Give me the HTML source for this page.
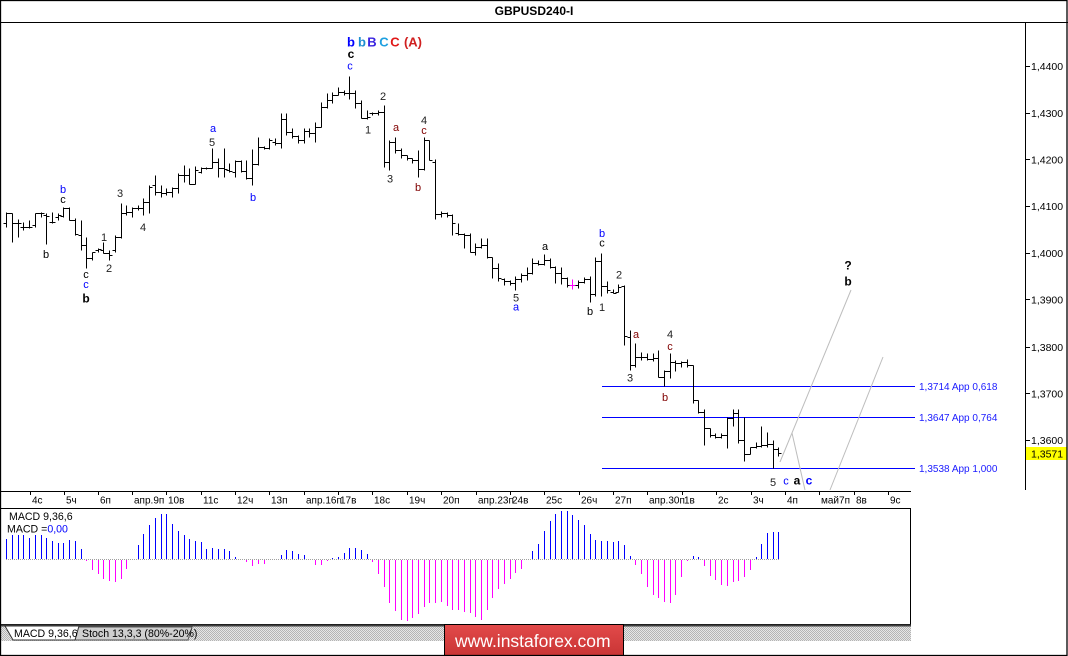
<!DOCTYPE html>
<html><head><meta charset="utf-8"><style>
html,body{margin:0;padding:0;background:#fff;}
svg{display:block;}
text{font-family:"Liberation Sans",Arial,sans-serif;}
</style></head><body>
<svg width="1068" height="656" viewBox="0 0 1068 656" xmlns="http://www.w3.org/2000/svg">
<defs>
<pattern id="hatch" width="2" height="2" patternUnits="userSpaceOnUse">
<rect width="2" height="2" fill="#e6e6e6"/><rect width="1" height="1" fill="#b4b4b4"/><rect x="1" y="1" width="1" height="1" fill="#b4b4b4"/>
</pattern>
<linearGradient id="lg" x1="0" y1="0" x2="0" y2="1"><stop offset="0" stop-color="#e24a4a"/><stop offset="1" stop-color="#c83434"/></linearGradient>
</defs>
<rect width="1068" height="656" fill="#fff"/>
<!-- title -->
<text x="534" y="15" font-size="12" font-weight="bold" text-anchor="middle" fill="#000">GBPUSD240-I</text>
<g shape-rendering="crispEdges" stroke="#000" stroke-width="1" fill="none">
<line x1="0" y1="22.5" x2="1068" y2="22.5"/>
<line x1="1025.5" y1="22" x2="1025.5" y2="490"/>
<line x1="0" y1="491.5" x2="911" y2="491.5"/>
</g>
<!-- price axis ticks -->
<g shape-rendering="crispEdges" stroke="#000">
<path d="M1025 66.5H1030M1025 113.5H1030M1025 159.5H1030M1025 206.5H1030M1025 253.5H1030M1025 299.5H1030M1025 347.5H1030M1025 393.5H1030M1025 440.5H1030"/>
</g>
<g font-size="10.5" fill="#000">
<text x="1031" y="70">1,4400</text>
<text x="1031" y="117">1,4300</text>
<text x="1031" y="163.5">1,4200</text>
<text x="1031" y="210">1,4100</text>
<text x="1031" y="257">1,4000</text>
<text x="1031" y="303.5">1,3900</text>
<text x="1031" y="351">1,3800</text>
<text x="1031" y="397.5">1,3700</text>
<text x="1031" y="444">1,3600</text>
</g>
<rect x="1026" y="447" width="41" height="13" fill="#ffff00"/>
<text x="1031" y="457.5" font-size="10.5" fill="#000">1,3571</text>
<!-- fib lines -->
<g shape-rendering="crispEdges" stroke="#0000ff">
<line x1="602" y1="386.5" x2="915" y2="386.5"/>
<line x1="602" y1="417.5" x2="915" y2="417.5"/>
<line x1="602" y1="468.5" x2="915" y2="468.5"/>
</g>
<g font-size="10" fill="#1a1aff">
<text x="919" y="390">1,3714 App 0,618</text>
<text x="919" y="421">1,3647 App 0,764</text>
<text x="919" y="472">1,3538 App 1,000</text>
</g>
<!-- grey projection lines -->
<g stroke="#bdbdbd" stroke-width="1" fill="none">
<line x1="780" y1="462" x2="851" y2="290"/>
<line x1="792" y1="433" x2="805" y2="490"/>
<line x1="830" y1="490" x2="883" y2="357"/>
</g>
<!-- price bars -->
<g transform="translate(0.5,0.5)" shape-rendering="crispEdges" stroke="#000" stroke-width="1" fill="none">
<path d="M6 212V227M3 223H6M6 213H9M12 213V242M9 213H12M12 223H15M18 219V237M15 223H18M18 223H21M23 222V230M20 227H23M23 227H26M29 220V228M26 227H29M29 227H32M35 213V227M32 225H35M35 213H38M41 212V217M38 213H41M41 213H44M46 213V244M43 215H46M46 216H49M52 212V223M49 222H52M52 222H55M58 213V220M55 217H58M58 215H61M63 207V217M60 216H63M63 208H66M69 207V220M66 208H69M69 220H72M75 218V235M72 220H75M75 234H78M81 220V250M78 235H81M81 245H84M86 237V268M83 245H86M86 258H89M92 252V260M89 258H92M92 252H95M98 248V252M95 250H98M98 249H101M103 242V253M100 250H103M103 253H106M109 250V260M106 253H109M109 255H112M115 235V252M112 250H115M115 237H118M121 203V238M118 237H121M121 213H124M126 205V215M123 213H126M126 212H129M132 207V217M129 212H132M132 208H135M138 205V210M135 208H138M138 208H141M143 198V215M140 208H143M143 202H146M149 185V213M146 202H149M149 187H152M155 175V195M152 185H155M155 192H158M161 185V197M158 192H161M161 193H164M166 188V195M163 193H166M166 192H169M172 187V197M169 192H172M172 188H175M178 173V193M175 188H178M178 175H181M184 165V182M181 175H184M184 175H187M189 168V184M186 175H189M189 184H192M195 166V184M192 184H195M195 170H198M201 167V173M198 172H201M201 168H204M206 167V169M203 168H206M206 168H209M212 148V168M209 168H212M212 162H215M218 158V177M215 162H218M218 168H221M224 148V177M221 168H224M224 169H227M229 163V172M226 170H229M229 171H232M235 160V177M232 172H235M235 161H238M241 160V172M238 161H241M241 171H244M246 160V179M243 171H246M246 178H249M252 149V185M249 178H252M252 164H255M258 137V165M255 164H258M258 147H261M264 146V149M261 147H264M264 148H267M269 138V149M266 148H269M269 140H272M275 138V145M272 142H275M275 143H278M281 113V148M278 143H281M281 119H284M286 113V135M283 119H286M286 132H289M292 128V138M289 132H292M292 136H295M298 135V143M295 136H298M298 140H301M304 128V143M301 140H304M304 131H307M309 128V137M306 131H309M309 133H312M315 122V142M312 133H315M315 127H318M321 102V127M318 127H321M321 107H324M327 93V108M324 107H327M327 100H330M332 92V103M329 100H332M332 95H335M338 87V95M335 95H338M338 92H341M344 90V95M341 92H344M344 93H347M349 76V99M346 93H349M349 93H352M355 90V108M352 93H355M355 103H358M361 100V118M358 103H361M361 118H364M367 110V119M364 118H367M367 117H370M372 112V115M369 113H372M372 113H375M378 110V115M375 113H378M378 112H381M384 105V167M381 112H384M384 162H387M389 140V170M386 162H389M389 142H392M395 137V153M392 142H395M395 150H398M401 148V158M398 150H401M401 155H404M407 155V160M404 155H407M407 158H410M412 158V163M409 158H412M412 160H415M418 150V177M415 160H418M418 169H421M424 137V170M421 169H424M424 140H427M429 140V160M426 140H429M429 160H432M435 159V219M432 162H435M435 214H438M441 211V217M438 214H441M441 213H444M447 212V217M444 213H447M447 215H450M452 214V235M449 215H452M452 223H455M458 223V235M455 233H458M458 234H461M464 233V248M461 234H464M464 235H467M470 233V252M467 235H470M470 252H473M475 243V255M472 252H475M475 247H478M481 238V248M478 247H481M481 245H484M487 238V258M484 245H487M487 257H490M492 257V278M489 257H492M492 268H495M498 263V281M495 268H498M498 278H501M504 278V285M501 279H504M504 281H507M510 280V285M507 281H510M510 283H513M515 276V290M512 283H515M515 279H518M521 273V282M518 279H521M521 275H524M527 267V280M524 275H527M527 273H530M532 258V274M529 273H532M532 263H535M538 260V265M535 263H538M538 264H541M544 254V265M541 264H544M544 260H547M550 258V268M547 260H550M550 267H553M555 266V283M552 267H555M555 273H558M561 267V284M558 273H561M561 278H564M567 277V287M564 278H567M567 285H570M578 280V288M575 285H578M578 282H581M584 277V283M581 282H584M584 279H587M590 276V302M587 279H590M590 294H593M595 257V296M592 294H595M595 261H598M601 253V296M598 261H601M601 286H604M607 281V293M604 286H607M607 290H610M613 289V293M610 292H613M613 293H616M618 284V292M615 292H618M618 287H621M624 285V345M621 286H624M624 336H627M630 330V370M627 337H630M630 365H633M635 343V367M632 365H635M635 357H638M641 352V360M638 357H641M641 357H644M647 353V360M644 357H647M647 359H650M653 353V361M650 359H653M653 358H656M658 350V377M655 358H658M658 377H661M664 370V386M661 377H664M664 371H667M670 353V378M667 371H670M670 362H673M675 360V371M672 362H675M675 363H678M681 361V367M678 363H681M681 362H684M687 359V367M684 362H687M687 365H690M693 365V403M690 365H693M693 400H696M698 400V413M695 400H698M698 412H701M704 409V445M701 412H704M704 428H707M710 428V437M707 428H710M710 435H713M715 433V438M712 435H715M715 437H718M721 433V438M718 437H721M721 435H724M727 417V448M724 435H727M727 418H730M733 409V426M730 418H733M733 413H736M738 409V443M735 413H738M738 440H741M744 417V461M741 440H744M744 454H747M750 447V454M747 454H750M750 447H753M756 442V448M753 447H756M756 446H759M761 426V447M758 446H761M761 445H764M767 432V447M764 445H767M767 444H770M773 440V468M770 444H773M773 449H776M778 447V456M775 449H778M778 453H781"/>
<path stroke="#ff00ff" d="M572 279V289M569 285H572M572 285H575"/>
</g>
<!-- wave labels -->
<g font-size="11" text-anchor="middle">
<text x="63" y="193" fill="#0000ff">b</text>
<text x="63" y="203" fill="#000">c</text>
<text x="46" y="258" fill="#000">b</text>
<text x="86" y="278" fill="#000">c</text>
<text x="86" y="288" fill="#0000ff">c</text>
<text x="86" y="302.5" fill="#000" font-weight="bold" font-size="12">b</text>
<text x="104" y="241" fill="#222">1</text>
<text x="109" y="272" fill="#222">2</text>
<text x="120" y="197" fill="#222">3</text>
<text x="143" y="231" fill="#222">4</text>
<text x="253" y="201" fill="#0000ff">b</text>
<text x="213" y="132" fill="#0000ff">a</text>
<text x="212" y="146" fill="#222">5</text>
<text x="350" y="69.5" fill="#0000ff">c</text>
<text x="351" y="58" fill="#000" font-weight="bold" font-size="12">c</text>
<text x="383" y="100" fill="#222">2</text>
<text x="368" y="133.5" fill="#222">1</text>
<text x="396" y="131" fill="#800000">a</text>
<text x="390" y="182.5" fill="#222">3</text>
<text x="424" y="124" fill="#222">4</text>
<text x="424" y="134" fill="#800000">c</text>
<text x="418" y="191" fill="#800000">b</text>
<text x="516" y="301.5" fill="#222">5</text>
<text x="516" y="310.5" fill="#0000ff">a</text>
<text x="545" y="250" fill="#000">a</text>
<text x="590" y="315" fill="#000">b</text>
<text x="602" y="237" fill="#0000ff">b</text>
<text x="602" y="246.5" fill="#000">c</text>
<text x="602" y="311" fill="#222">1</text>
<text x="619" y="278.5" fill="#222">2</text>
<text x="636" y="338" fill="#800000">a</text>
<text x="630" y="381.5" fill="#222">3</text>
<text x="670" y="338" fill="#222">4</text>
<text x="670" y="350" fill="#800000">c</text>
<text x="665" y="401" fill="#800000">b</text>
<text x="773" y="486" fill="#222">5</text>
<text x="786" y="484.5" fill="#0000ff">c</text>
<text x="797" y="484.5" fill="#000" font-weight="bold" font-size="12">a</text>
<text x="809" y="484.5" fill="#0000ff" font-weight="bold" font-size="12">c</text>
<text x="848" y="269.5" fill="#000" font-weight="bold" font-size="12">?</text>
<text x="848" y="285.5" fill="#000" font-weight="bold" font-size="12">b</text>
</g>
<g font-size="13" font-weight="bold" text-anchor="middle">
<text x="351" y="46.5" fill="#0000ff">b</text>
<text x="362" y="46.5" fill="#1e8fd0">b</text>
<text x="372" y="46.5" fill="#3a24e0">B</text>
<text x="384" y="46.5" fill="#1ea0e0">C</text>
<text x="395" y="46.5" fill="#e01818">C</text>
<text x="413" y="46.5" fill="#d02020">(A)</text>
</g>
<!-- time axis -->
<g shape-rendering="crispEdges" stroke="#000">
<path d="M30.5 491V495M64.5 491V495M98.5 491V495M132.5 491V495M166.5 491V495M201.5 491V495M235.5 491V495M269.5 491V495M304.5 491V495M338.5 491V495M372.5 491V495M407.5 491V495M441.5 491V495M476.5 491V495M510.5 491V495M544.5 491V495M579.5 491V495M613.5 491V495M647.5 491V495M682.5 491V495M716.5 491V495M751.5 491V495M785.5 491V495M819.5 491V495M854.5 491V495M888.5 491V495"/>
</g>
<g font-size="10" fill="#000">
<text x="32" y="503.5">4с</text>
<text x="66" y="503.5">5ч</text>
<text x="100" y="503.5">6п</text>
<text x="134" y="503.5">апр.9п</text>
<text x="168" y="503.5">10в</text>
<text x="203" y="503.5">11с</text>
<text x="237" y="503.5">12ч</text>
<text x="271" y="503.5">13п</text>
<text x="306" y="503.5">апр.16п</text>
<text x="340" y="503.5">17в</text>
<text x="374" y="503.5">18с</text>
<text x="409" y="503.5">19ч</text>
<text x="443" y="503.5">20п</text>
<text x="478" y="503.5">апр.23п</text>
<text x="512" y="503.5">24в</text>
<text x="546" y="503.5">25с</text>
<text x="581" y="503.5">26ч</text>
<text x="615" y="503.5">27п</text>
<text x="649" y="503.5">апр.30п</text>
<text x="684" y="503.5">1в</text>
<text x="718" y="503.5">2с</text>
<text x="753" y="503.5">3ч</text>
<text x="787" y="503.5">4п</text>
<text x="821" y="503.5">май7п</text>
<text x="856" y="503.5">8в</text>
<text x="890" y="503.5">9с</text>
</g>
<!-- MACD panel -->
<rect x="0.5" y="508.5" width="910" height="116" fill="none" stroke="#000" shape-rendering="crispEdges"/>
<line x1="6" y1="559.5" x2="779" y2="559.5" stroke="#a0a0a0" stroke-dasharray="1,1" shape-rendering="crispEdges"/>
<g transform="translate(0.5,0)" shape-rendering="crispEdges" stroke-width="1" fill="none">
<path stroke="#0000ff" d="M6 559V539M12 559V535M18 559V535M23 559V535M29 559V538M35 559V535M41 559V535M46 559V538M52 559V541M58 559V543M63 559V543M69 559V540M75 559V541M81 559V549M138 559V545M143 559V534M149 559V525M155 559V518M161 559V514M166 559V514M172 559V524M178 559V531M184 559V535M189 559V539M195 559V541M201 559V542M206 559V549M212 559V548M218 559V549M224 559V549M229 559V551M235 559V557M281 559V555M286 559V550M292 559V551M298 559V554M304 559V555M332 559V558M338 559V557M344 559V553M349 559V548M355 559V548M361 559V550M367 559V554M532 559V551M538 559V544M544 559V531M550 559V521M555 559V514M561 559V511M567 559V511M572 559V515M578 559V520M584 559V525M590 559V534M595 559V540M601 559V541M607 559V541M613 559V542M618 559V541M624 559V545M630 559V556M693 559V556M698 559V557M756 559V557M761 559V544M767 559V533M773 559V532M778 559V532"/>
<path stroke="#ff00ff" d="M86 560V561M92 560V570M98 560V574M103 560V579M109 560V581M115 560V582M121 560V579M126 560V569M246 560V562M252 560V566M258 560V564M264 560V564M315 560V565M321 560V565M327 560V561M372 560V562M378 560V574M384 560V587M389 560V603M395 560V611M401 560V620M407 560V621M412 560V618M418 560V614M424 560V607M429 560V603M435 560V603M441 560V602M447 560V606M452 560V610M458 560V610M464 560V612M470 560V613M475 560V617M481 560V620M487 560V610M492 560V598M498 560V589M504 560V584M510 560V579M515 560V573M521 560V569M635 560V565M641 560V574M647 560V587M653 560V595M658 560V598M664 560V602M670 560V603M675 560V595M681 560V577M687 560V561M704 560V566M710 560V576M715 560V580M721 560V585M727 560V586M733 560V582M738 560V581M744 560V577M750 560V570"/>
</g>
<text x="9" y="520" font-size="10.6" fill="#000">MACD 9,36,6</text>
<text x="7" y="532.5" font-size="10.6" fill="#000">MACD =<tspan fill="#0000ff">0,00</tspan></text>
<!-- tab strip -->
<rect x="1" y="626" width="910" height="15" fill="url(#hatch)"/>
<line x1="0" y1="625.5" x2="911" y2="625.5" stroke="#404040" stroke-width="2"/>
<polygon points="78,627 192,627 188,640 75,640" fill="#cfcfcf" stroke="#555" stroke-width="1"/>
<polygon points="5,626 79,626 75,640 13,640" fill="#fff" stroke="#333" stroke-width="1"/>
<text x="14" y="637" font-size="10.6" fill="#000">MACD 9,36,6</text>
<text x="82" y="637" font-size="10.6" fill="#000">Stoch 13,3,3 (80%-20%)</text>
<!-- logo -->
<rect x="444.5" y="624.5" width="179" height="33" fill="url(#lg)" stroke="#000" stroke-width="1"/>
<text x="455" y="647" font-size="17.5" fill="#fff">www.instaforex.com</text>
<!-- outer border -->
<rect x="0.5" y="0.5" width="1066.5" height="655" fill="none" stroke="#000" stroke-width="1.3"/>
</svg>
</body></html>
